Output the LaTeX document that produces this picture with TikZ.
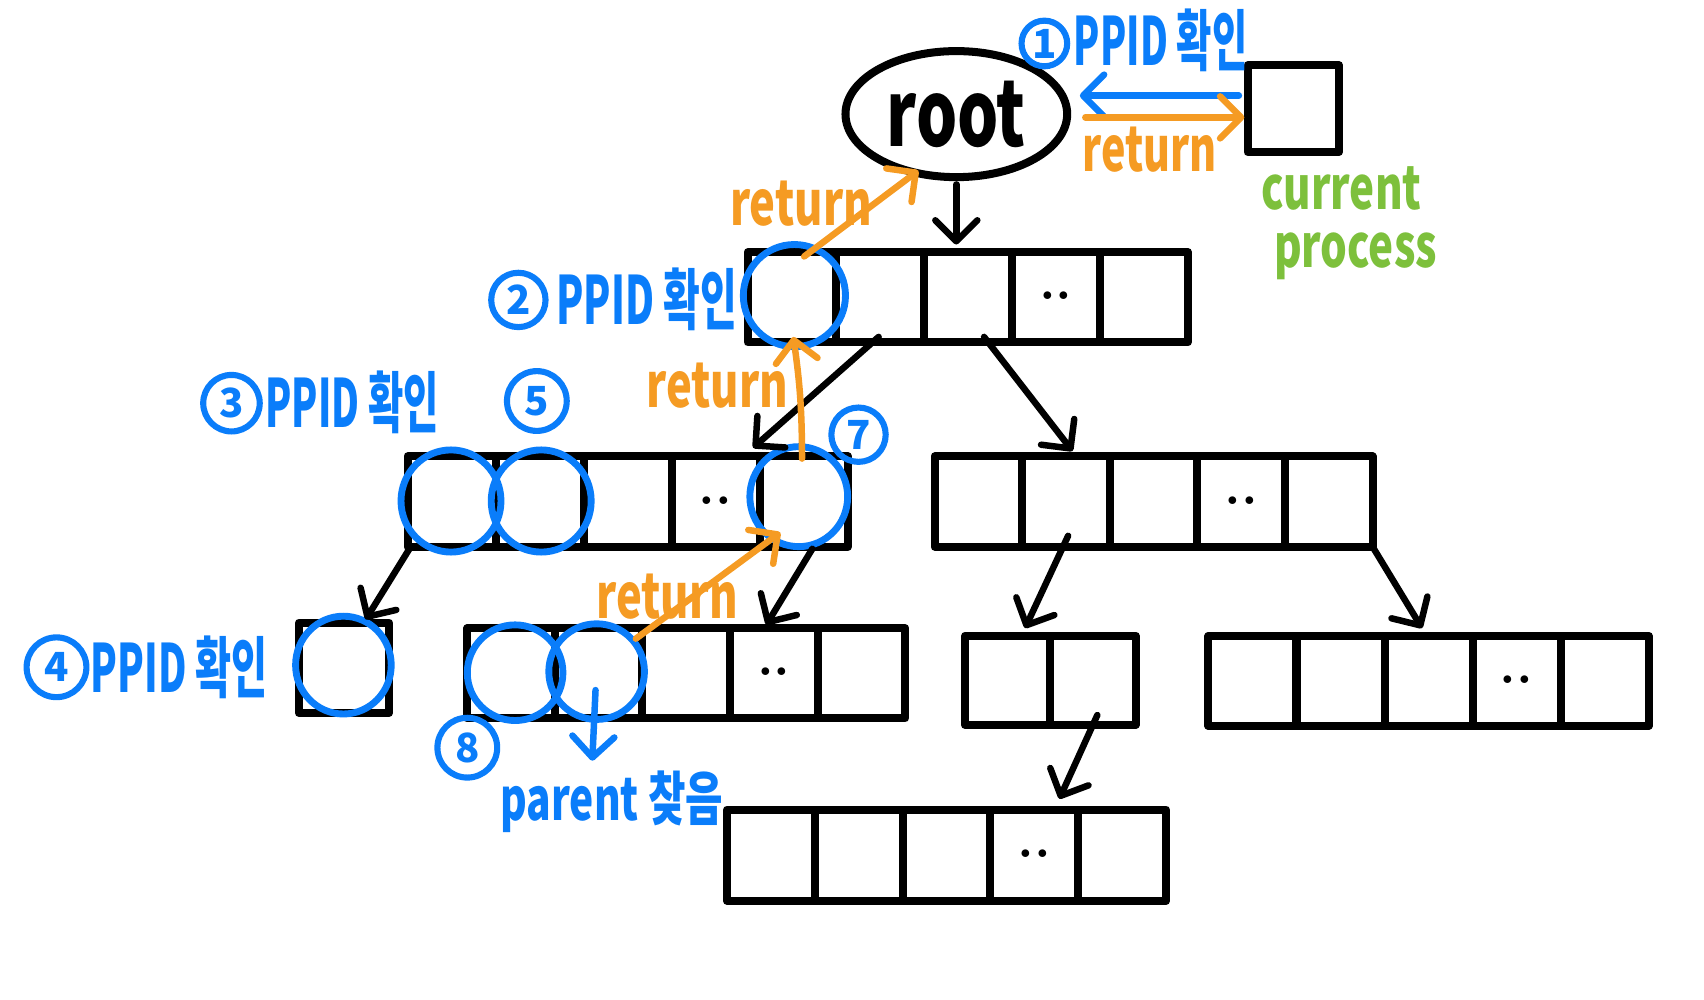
\documentclass[tikz,border=0pt]{standalone}
\usepackage{fontspec}
\usepackage{graphicx}
\usetikzlibrary{arrows.meta,shapes.geometric,calc}
\newfontfamily\kr{Noto Sans CJK KR}
\definecolor{hblue}{RGB}{10,125,250}
\definecolor{horange}{RGB}{245,155,35}
\definecolor{hgreen}{RGB}{125,192,60}
\newcommand\cellrow[6]{%
  \foreach \i in {1,...,#6}
    \node[cell, minimum width={#3*0.02cm}, minimum height={#5*0.02cm}] (#1-\i) at ({#2+(\i-0.5)*#3},#4) {};}
\begin{document}
\begin{tikzpicture}[x=0.02cm,y=-0.02cm,
  cell/.style={draw=black, line width=4.2pt, line join=round, inner sep=0pt, outer sep=0pt},
  bcirc/.style={ellipse, draw=hblue, line width=3.6pt, inner sep=0pt},
  num/.style={circle, draw=hblue, line width=3.2pt, text=hblue, inner sep=0pt, font=\kr\bfseries\fontsize{21}{21}\selectfont},
  lab/.style={text=hblue, inner sep=0pt, font=\kr\bfseries\fontsize{20.5}{20.5}\selectfont},
  ret/.style={text=horange, inner sep=0pt, font=\kr\bfseries\fontsize{24}{24}\selectfont},
  gtext/.style={text=hgreen, inner sep=0pt, align=left, anchor=base west, font=\kr\bfseries\fontsize{24}{30.5}\selectfont},
  dots/.style={inner sep=0pt, anchor=base, font=\bfseries\fontsize{28}{28}\selectfont},
  tip/.style={-{Straight Barb[length=11pt,width=22pt,round]}},
  barrow/.style={draw=black, line width=3.4pt, line cap=round, tip},
  oarrow/.style={draw=horange, line width=3.4pt, line cap=round, tip},
  bluearrow/.style={draw=hblue, line width=3.4pt, line cap=round, tip},
]
\useasboundingbox (0,0) rectangle (1568,920);

% root and current process
\node[ellipse, draw=black, line width=4.2pt, minimum width={204*0.02cm}, minimum height={116*0.02cm}, inner sep=0pt,
      font=\kr\bfseries\fontsize{34}{34}\selectfont] (root) at (880,105) {\scalebox{1}[1.4]{root}};
\node[cell, minimum width={84*0.02cm}, minimum height={80*0.02cm}] (CP) at (1190,100) {};

% arrays
\cellrow{L1}{688}{81}{273.5}{83}{5}
\cellrow{L2a}{375}{81}{461.5}{83}{5}
\cellrow{L2b}{860}{80.6}{461.5}{83}{5}
\cellrow{S}{275}{83}{614.5}{83}{1}
\cellrow{L3a}{430}{80.6}{619.5}{83}{5}
\cellrow{L3b}{888}{78.5}{626}{82}{2}
\cellrow{L3c}{1112}{81}{626.5}{83}{5}
\cellrow{L4}{669}{80.8}{787}{84}{5}

% dots
\node[dots] (d1) at ($(L1-4.center)+(0,2.5)$) {..};
\node[dots] (d2) at ($(L2a-4.center)+(0,2.5)$) {..};
\node[dots] (d3) at ($(L2b-4.center)+(0,2.5)$) {..};
\node[dots] (d4) at ($(L3a-4.center)+(0,2.5)$) {..};
\node[dots] (d5) at ($(L3c-4.center)+(0,2.5)$) {..};
\node[dots] (d6) at ($(L4-4.center)+(0,2.5)$) {..};

% blue circles
\node[bcirc, minimum width={94*0.02cm}, minimum height={94*0.02cm}] (cL1) at (731,272) {};
\node[bcirc, minimum width={92*0.02cm}, minimum height={94*0.02cm}] (cA) at (415,461) {};
\node[bcirc, minimum width={92*0.02cm}, minimum height={94*0.02cm}] (cB) at (498,461) {};
\node[bcirc, minimum width={90*0.02cm}, minimum height={92*0.02cm}] (cC) at (735,457) {};
\node[bcirc, minimum width={88*0.02cm}, minimum height={90*0.02cm}] (cS) at (316,612) {};
\node[bcirc, minimum width={88*0.02cm}, minimum height={88*0.02cm}] (cD) at (474,619) {};
\node[bcirc, minimum width={88*0.02cm}, minimum height={88*0.02cm}] (cE) at (549,618) {};

% numbers and labels
\node[num, minimum size={42*0.02cm}] (n1) at (961,40) {1};
\node[lab] (t1) at (1068,37) {\scalebox{0.98}[1.7]{PPID 확인}};
\node[num, minimum size={50*0.02cm}] (n2) at (477,276) {2};
\node[lab] (t2) at (595,275) {\scalebox{1.02}[1.7]{PPID 확인}};
\node[num, minimum size={52*0.02cm}] (n3) at (213,371) {3};
\node[lab] (t3) at (324,370) {\scalebox{0.98}[1.7]{PPID 확인}};
\node[num, minimum size={55*0.02cm}] (n4) at (52,614) {4};
\node[lab] (t4) at (165,614) {\scalebox{1.0}[1.7]{PPID 확인}};
\node[num, minimum size={55*0.02cm}] (n5) at (494,369) {5};
\node[num, minimum size={50*0.02cm}] (n7) at (790,400) {7};
\node[num, minimum size={55*0.02cm}] (n8) at (430,688) {8};
\node[lab] (t8) at (563,738) {\scalebox{1.04}[1.5]{parent 찾음}};

% return labels
\node[ret] (r0) at (1058,138) {\scalebox{0.9}[1.35]{return}};
\node[ret] (r1) at (737,187) {\scalebox{0.95}[1.35]{return}};
\node[ret] (r2) at (660,355) {\scalebox{0.95}[1.35]{return}};
\node[ret] (r3) at (614,549) {\scalebox{0.95}[1.35]{return}};

% current process
\node[gtext] (cp) at (1160,246) {\scalebox{0.92}[1.3]{current}\\\hspace{0.24cm}\scalebox{0.92}[1.3]{process}};

% black arrows
\draw[barrow] ($(root.south)+(0,3)$) -- ($(root.south |- L1-3.north)+(0,-7)$);
\draw[barrow] ($(L1-2.south)+(-1,-5)$) -- ($(L2a-5.north west)+(-6,-8)$);
\draw[barrow] ($(L1-3.south)+(15,-5)$) -- ($(L2b-2.north)+(6,-5)$);
\draw[barrow] ($(L2a-1.south west)+(3,0)$) -- ($(S-1.north)+(20,-3)$);
\draw[barrow] ($(L2a-5.south)+(8,2)$) -- ($(L3a-4.north)+(-7,-3)$);
\draw[barrow] ($(L2b-2.south)+(2,-10)$) -- ($(L3b-1.north)+(16,-7)$);
\draw[barrow] (L2b-5.south east) -- ($(L3c-3.north)+(-6,-7)$);
\draw[barrow] ($(L3b-2.south)+(4,-9)$) -- ($(L4-4.north)+(23,-10)$);

% blue arrows
\draw[bluearrow] ($(CP.west)+(-8,-12)$) -- ($(root.east)+(8,-17)$);
\draw[bluearrow] ($(cE.center)+(-1,17)$) -- ($(cE.center)+(-4,82)$);

% orange arrows
\draw[oarrow] ($(root.east)+(13,3)$) -- ($(CP.west)+(-3,8)$);
\draw[oarrow] ($(cL1.center)+(9,-36)$) -- ($(root.center)+(-35,52)$);
\draw[oarrow] ($(cC.center)+(3,-35)$) to[bend right=4] ($(cL1.center)+(-1,38)$);
\draw[oarrow] (cE.40) -- ($(cC.center)+(-17,33)$);
\end{tikzpicture}
\end{document}
